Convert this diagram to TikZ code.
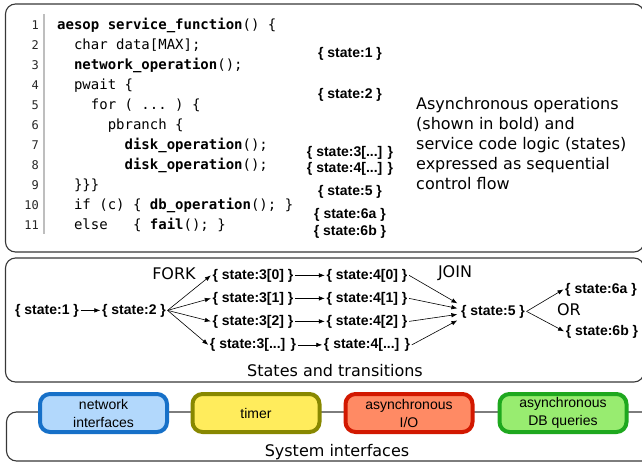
\documentclass[tikz,border=0pt]{standalone}
\usepackage{fontspec}
\setmainfont{DejaVu Sans}
\setmonofont{DejaVu Sans Mono}
\newfontfamily\arialfont{Liberation Sans}
\usetikzlibrary{arrows.meta}

\definecolor{framegray}{RGB}{55,55,55}
\definecolor{rulegray}{RGB}{190,190,190}
\definecolor{netfill}{RGB}{178,216,252}
\definecolor{netdraw}{RGB}{22,112,200}
\definecolor{timerfill}{RGB}{255,236,92}
\definecolor{timerdraw}{RGB}{136,136,0}
\definecolor{iofill}{RGB}{255,138,100}
\definecolor{iodraw}{RGB}{210,24,0}
\definecolor{dbfill}{RGB}{152,236,112}
\definecolor{dbdraw}{RGB}{30,168,30}

\tikzset{
  panel/.style={draw=framegray, line width=1.1pt, rounded corners=10pt},
  codeline/.style={anchor=base west, inner sep=0pt, font=\ttfamily\fontsize{14}{17}\selectfont},
  lineno/.style={anchor=base east, inner sep=0pt, font=\ttfamily\fontsize{12}{14}\selectfont, text=black!85},
  statelbl/.style={anchor=base, inner sep=1.5pt, font=\arialfont\bfseries\fontsize{14}{16}\selectfont},
  plaintext/.style={inner sep=0pt, font=\fontsize{16}{20}\selectfont},
  flow/.style={-{Latex[length=6pt,width=4.5pt]}, line width=0.6pt},
  iface/.style={rounded corners=10pt, line width=4pt, minimum width=127pt,
    minimum height=38pt, align=center, inner sep=0pt,
    font=\arialfont\fontsize{14}{18}\selectfont},
}

\begin{document}
\begin{tikzpicture}[x=1pt,y=-1pt]
\useasboundingbox (0,0) rectangle (642,463);
\clip (0,0) rectangle (642,463);

% ---------- panels ----------
\draw[panel] (5.5,4) rectangle (644,252);
\draw[panel] (5.5,258) rectangle (644,382);
\draw[panel] (6.5,412) rectangle (660,461);

% ---------- source listing ----------
\draw[rulegray, line width=1.5pt] (44,14) -- (44,234);
\foreach \k in {1,...,11}{
  \node[lineno] (n\k) at (39, 29+20*\k-20) {\k};
}
\node[codeline] (c1)  at (57, 29)  {\textbf{aesop service\_function}() \{};
\node[codeline] (c2)  at (57, 49)  {\ \ char data[MAX];};
\node[codeline] (c3)  at (57, 69)  {\ \ \textbf{network\_operation}();};
\node[codeline] (c4)  at (57, 89)  {\ \ pwait \{};
\node[codeline] (c5)  at (57, 109) {\ \ \ \ for ( ... ) \{};
\node[codeline] (c6)  at (57, 129) {\ \ \ \ \ \ pbranch \{};
\node[codeline] (c7)  at (57, 149) {\ \ \ \ \ \ \ \ \textbf{disk\_operation}();};
\node[codeline] (c8)  at (57, 169) {\ \ \ \ \ \ \ \ \textbf{disk\_operation}();};
\node[codeline] (c9)  at (57, 189) {\ \ \}\}\}};
\node[codeline] (c10) at (57, 209) {\ \ if (c) \{ \textbf{db\_operation}(); \}};
\node[codeline] (c11) at (57, 229) {\ \ else\ \ \ \{ \textbf{fail}(); \}};

% states annotated beside the listing
\node[statelbl] (a1)  at (350, 57)  {\{ state:1 \}};
\node[statelbl] (a2)  at (350, 98)  {\{ state:2 \}};
\node[statelbl] (a3)  at (350, 156) {\{ state:3[...] \}};
\node[statelbl] (a4)  at (350, 172) {\{ state:4[...] \}};
\node[statelbl] (a5)  at (350, 195) {\{ state:5 \}};
\node[statelbl] (a6a) at (350, 218) {\{ state:6a \}};
\node[statelbl] (a6b) at (350, 235) {\{ state:6b \}};

\node[plaintext, anchor=west, align=left] (desc) at (416, 144)
  {Asynchronous operations\\(shown in bold) and\\service code logic (states)\\expressed as sequential\\control flow};

% ---------- states and transitions ----------
\node[statelbl] (s1)  at (47, 314)  {\{ state:1 \}};
\node[statelbl] (s2)  at (134, 314) {\{ state:2 \}};
\node[statelbl] (s30) at (253, 279)   {\{ state:3[0] \}};
\node[statelbl] (s31) at (253, 302)   {\{ state:3[1] \}};
\node[statelbl] (s32) at (253, 325)   {\{ state:3[2] \}};
\node[statelbl] (s33) at (253, 348.5) {\{ state:3[...] \}};
\node[statelbl] (s40) at (367, 279)   {\{ state:4[0] \}};
\node[statelbl] (s41) at (367, 302)   {\{ state:4[1] \}};
\node[statelbl] (s42) at (367, 325)   {\{ state:4[2] \}};
\node[statelbl] (s43) at (367, 348.5) {\{ state:4[...] \}};
\node[statelbl] (s5)  at (493, 315) {\{ state:5 \}};
\node[statelbl] (s6a) at (601, 293) {\{ state:6a \}};
\node[statelbl] (s6b) at (602, 335) {\{ state:6b \}};

\node[plaintext] (fork) at (174, 274) {FORK};
\node[plaintext] (join) at (455, 273) {JOIN};
\node[plaintext] (or)   at (569, 310) {OR};
\node[plaintext] (sttitle) at (335, 371) {States and transitions};

\draw[flow] (s1) -- (s2);
\foreach \i in {0,1,2,3}{
  \draw[flow] (s2.east) -- (s3\i.west);
  \draw[flow] (s3\i) -- (s4\i);
}
\draw[flow] (s40.east) -- ([xshift=-2pt,yshift=8pt]s5.west);
\draw[flow] (s41.east) -- ([xshift=-2pt,yshift=3pt]s5.west);
\draw[flow] (s42.east) -- ([xshift=-2pt,yshift=-3pt]s5.west);
\draw[flow] (s43.east) -- ([xshift=-2pt,yshift=-9pt]s5.west);
\draw[flow] (s5.east) -- (s6a.west);
\draw[flow] (s5.east) -- (s6b.west);

% ---------- system interfaces ----------
\node[iface, fill=netfill, draw=netdraw]     (net)   at (103.5, 413) {network\\interfaces};
\node[iface, fill=timerfill, draw=timerdraw] (timer) at (256, 413)   {timer};
\node[iface, fill=iofill, draw=iodraw]       (aio)   at (409, 413)   {asynchronous\\I/O};
\node[iface, fill=dbfill, draw=dbdraw]       (adb)   at (563, 413)   {asynchronous\\DB queries};
\node[plaintext] (sititle) at (337, 452) {System interfaces};
\end{tikzpicture}
\end{document}
